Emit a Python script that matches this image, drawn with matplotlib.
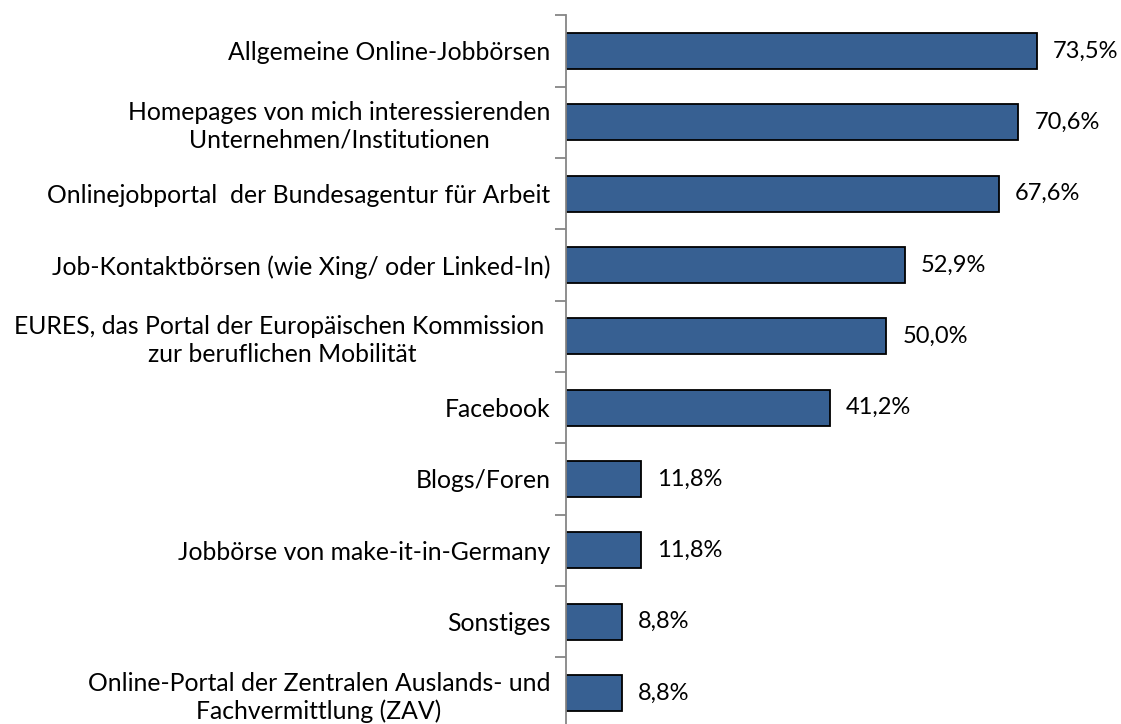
import matplotlib.pyplot as plt
import numpy as np

# categories top to bottom
categories = [
    "Allgemeine Online-Jobbörsen",
    "Homepages von mich interessierenden\nUnternehmen/Institutionen",
    "Onlinejobportal  der Bundesagentur für Arbeit",
    "Job-Kontaktbörsen (wie Xing/ oder Linked-In)",
    "EURES, das Portal der Europäischen Kommission \nzur beruflichen Mobilität",
    "Facebook",
    "Blogs/Foren",
    "Jobbörse von make-it-in-Germany",
    "Sonstiges",
    "Online-Portal der Zentralen Auslands- und\nFachvermittlung (ZAV)",
]
values = [73.5, 70.6, 67.6, 52.9, 50.0, 41.2, 11.8, 11.8, 8.8, 8.8]
value_labels = ["73,5%", "70,6%", "67,6%", "52,9%", "50,0%", "41,2%",
                "11,8%", "11,8%", "8,8%", "8,8%"]

plt.rcParams['font.family'] = ['Lato', 'DejaVu Sans']

fig = plt.figure(figsize=(11.21, 7.24), dpi=100)
ax = fig.add_axes([0.5045, -0.0065, 0.4921, 0.9855])

y = np.arange(len(categories))
ax.barh(y, values, height=0.505, color='#376092', edgecolor='black', linewidth=1.3)

for yi, v, lab in zip(y, values, value_labels):
    ax.text(v + 2.5, yi, lab, va='center', ha='left', fontsize=17, color='black')

ax.set_xlim(0, 86)
ax.set_ylim(len(categories) - 0.5, -0.5)

ax.set_yticks(y)
ax.set_yticklabels(categories, fontsize=17.8, multialignment='center', linespacing=1.25)
ax.tick_params(axis='y', which='major', length=0, pad=11)
ax.set_yticks(np.arange(-0.5, len(categories), 1), minor=True)
ax.tick_params(axis='y', which='minor', length=8, width=1.3, color='#868686')

ax.set_xticks([])
for s in ['top', 'right', 'bottom']:
    ax.spines[s].set_visible(False)
ax.spines['left'].set_color('#868686')
ax.spines['left'].set_linewidth(1.3)

fig.savefig('out.png', dpi=100)
